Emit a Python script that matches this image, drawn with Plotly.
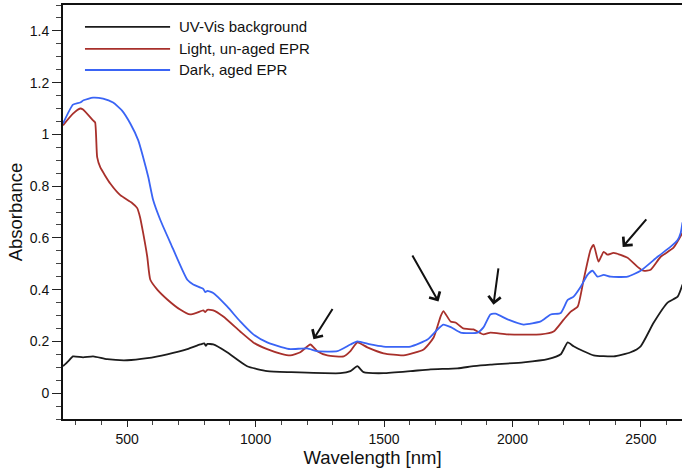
import plotly.graph_objects as go

# ---- data ----
names = ["UV-Vis background", "Light, un-aged EPR", "Dark, aged EPR"]
colors = ["#1c1c1c", "#a8302b", "#3a64f5"]

bg_x = [250, 270, 289, 328, 367, 422, 500, 578, 656, 734, 784, 800, 806, 812, 835, 889, 967,
        1045, 1135, 1330, 1369, 1396, 1420, 1498, 1603, 1681, 1786, 1848, 1914, 2043, 2137,
        2188, 2215, 2238, 2277, 2316, 2394, 2460, 2499, 2550, 2604, 2643, 2662]
bg_y = [0.104, 0.123, 0.142, 0.138, 0.142, 0.131, 0.127, 0.135, 0.150, 0.170, 0.188, 0.192, 0.183,
        0.190, 0.188, 0.158, 0.104, 0.085, 0.081, 0.077, 0.085, 0.104, 0.081, 0.077, 0.085, 0.092,
        0.096, 0.104, 0.110, 0.119, 0.131, 0.150, 0.196, 0.181, 0.162, 0.146, 0.142, 0.158, 0.181,
        0.273, 0.350, 0.373, 0.420]

light_x = [250, 289, 317, 328, 367, 375, 383, 395, 434, 473, 519, 539, 550, 562, 578, 590, 617,
           656, 706, 745, 772, 796, 804, 812, 835, 874, 940, 991, 1045, 1100, 1135, 1174, 1213,
           1240, 1279, 1343, 1369, 1396, 1435, 1498, 1576, 1654, 1693, 1720, 1731, 1759, 1778,
           1809, 1848, 1887, 1914, 1981, 2110, 2160, 2200, 2227, 2254, 2277, 2304, 2316, 2335,
           2355, 2370, 2394, 2448, 2487, 2510, 2538, 2577, 2627, 2662]
light_y = [1.035, 1.080, 1.100, 1.096, 1.054, 1.046, 0.912, 0.873, 0.810, 0.765, 0.735, 0.715,
           0.680, 0.619, 0.527, 0.438, 0.400, 0.362, 0.323, 0.304, 0.311, 0.320, 0.313, 0.322,
           0.320, 0.296, 0.238, 0.196, 0.170, 0.152, 0.146, 0.158, 0.188, 0.162, 0.146, 0.142,
           0.162, 0.196, 0.177, 0.154, 0.146, 0.169, 0.215, 0.296, 0.317, 0.277, 0.273, 0.250,
           0.246, 0.227, 0.234, 0.227, 0.227, 0.238, 0.285, 0.315, 0.335, 0.438, 0.554, 0.573,
           0.508, 0.546, 0.535, 0.542, 0.523, 0.488, 0.473, 0.477, 0.527, 0.562, 0.620]

dark_x = [250, 289, 317, 330, 367, 406, 445, 480, 512, 543, 562, 582, 601, 629, 668, 734, 757,
          796, 804, 812, 835, 889, 940, 991, 1045, 1100, 1135, 1201, 1240, 1318, 1369, 1396,
          1447, 1498, 1603, 1669, 1708, 1731, 1760, 1798, 1864, 1887, 1914, 1934, 1981, 2043,
          2110, 2149, 2188, 2215, 2238, 2265, 2292, 2312, 2331, 2355, 2382, 2448, 2499, 2565,
          2616, 2643, 2655, 2662]
dark_y = [1.042, 1.115, 1.123, 1.132, 1.142, 1.138, 1.123, 1.092, 1.042, 0.977, 0.912, 0.835,
          0.746, 0.669, 0.581, 0.438, 0.420, 0.403, 0.390, 0.395, 0.387, 0.335, 0.277, 0.227,
          0.196, 0.178, 0.170, 0.173, 0.162, 0.162, 0.188, 0.200, 0.188, 0.180, 0.180, 0.207,
          0.246, 0.265, 0.255, 0.234, 0.234, 0.254, 0.304, 0.307, 0.285, 0.265, 0.277, 0.304,
          0.310, 0.360, 0.373, 0.410, 0.457, 0.473, 0.450, 0.457, 0.450, 0.450, 0.473, 0.527,
          0.566, 0.592, 0.620, 0.660]

# arrows: (head x, head y, tail x, tail y)
arrows = [(1225, 0.208, 1303, 0.331),
          (1712, 0.354, 1607, 0.538),
          (1926, 0.342, 1946, 0.488),
          (2429, 0.565, 2526, 0.677)]

font = "Liberation Sans, Arial, Helvetica, sans-serif"

fig = go.Figure()
for xs, ys, nm, c in [(bg_x, bg_y, names[0], colors[0]),
                      (light_x, light_y, names[1], colors[1]),
                      (dark_x, dark_y, names[2], colors[2])]:
    fig.add_trace(go.Scatter(x=xs, y=ys, mode="lines", name=nm,
                             line=dict(color=c, width=1.8, shape="spline", smoothing=0.5),
                             showlegend=False))

for hx, hy, tx, ty in arrows:
    fig.add_annotation(x=hx, y=hy, ax=tx, ay=ty, xref="x", yref="y", axref="x", ayref="y",
                       showarrow=True, arrowhead=4, arrowsize=1.2, arrowwidth=2,
                       arrowcolor="#111111", text="")

# manual legend
leg_y = [0.947, 0.894, 0.843]
for nm, c, ly in zip(names, colors, leg_y):
    fig.add_shape(type="line", xref="paper", yref="paper", x0=0.0355, x1=0.173, y0=ly, y1=ly,
                  line=dict(color=c, width=1.8))
    fig.add_annotation(xref="paper", yref="paper", x=0.184, y=ly, text=nm, showarrow=False,
                       xanchor="left", yanchor="middle", font=dict(size=15, color="#111111", family=font))

fig.update_layout(
    width=682, height=469,
    margin=dict(l=63, r=0, t=5, b=50),
    paper_bgcolor="white", plot_bgcolor="white",
    font=dict(family=font, color="#111111", size=14),
    xaxis=dict(range=[250, 2660], showgrid=False, zeroline=False,
               tickvals=[500, 1000, 1500, 2000, 2500],
               ticks="outside", ticklen=6, tickwidth=1.2, tickcolor="#222",
               minor=dict(dtick=100, tick0=0, ticks="outside", ticklen=4, tickwidth=1, tickcolor="#444"),
               showline=True, linecolor="#111", linewidth=2, mirror=True,
               title=dict(text="Wavelength [nm]", font=dict(size=18.5), standoff=4),
               tickfont=dict(size=14)),
    yaxis=dict(range=[-0.1, 1.5], showgrid=False, zeroline=False,
               tickvals=[0, 0.2, 0.4, 0.6, 0.8, 1.0, 1.2, 1.4],
               ticktext=["0", "0.2", "0.4", "0.6", "0.8", "1", "1.2", "1.4"],
               ticks="outside", ticklen=9, tickwidth=1.2, tickcolor="#222",
               minor=dict(dtick=0.05, tick0=0, ticks="outside", ticklen=5, tickwidth=1, tickcolor="#444"),
               showline=True, linecolor="#111", linewidth=2,
               title=dict(text="Absorbance", font=dict(size=18.5), standoff=2),
               tickfont=dict(size=14)),
)

fig.write_html("out.html")
